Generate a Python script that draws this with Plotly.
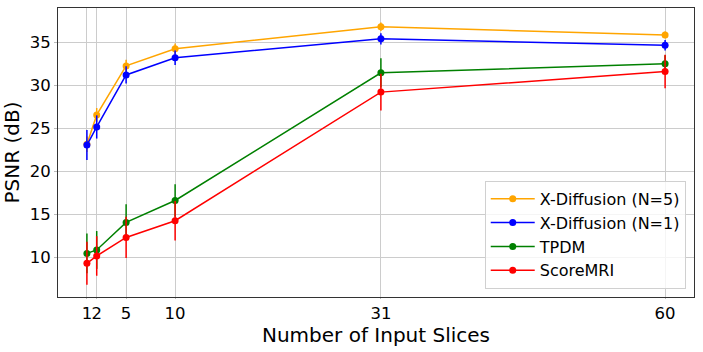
import plotly.graph_objects as go

slices = [1, 2, 5, 10, 31, 60]
tick_labels = ["1", "2", "5", "10", "31", "60"]

xdiff5 = [23.2, 26.6, 32.3, 34.3, 36.85, 35.9]
xdiff5_err = [0.9, 0.8, 0.7, 0.6, 0.5, 0.4]
xdiff1 = [23.1, 25.2, 31.25, 33.25, 35.45, 34.7]
xdiff1_err = [1.75, 1.35, 1.0, 0.85, 0.65, 0.6]
tpdm = [10.5, 10.9, 14.1, 16.65, 31.5, 32.55]
tpdm_err = [2.3, 2.2, 2.1, 1.9, 1.7, 1.0]
scoremri = [9.35, 10.2, 12.35, 14.3, 29.25, 31.65]
scoremri_err = [2.5, 2.3, 2.4, 2.3, 2.15, 1.95]

series = [
    ("X-Diffusion (N=5)", xdiff5, xdiff5_err, "orange"),
    ("X-Diffusion (N=1)", xdiff1, xdiff1_err, "blue"),
    ("TPDM", tpdm, tpdm_err, "green"),
    ("ScoreMRI", scoremri, scoremri_err, "red"),
]

fig = go.Figure()
for name, vals, errs, color in series:
    fig.add_trace(go.Scatter(
        x=slices, y=vals, name=name, mode="lines+markers",
        line=dict(color=color, width=1.5),
        marker=dict(color=color, size=7),
        error_y=dict(type="data", array=errs, visible=True, color=color,
                     thickness=1.5, width=0),
    ))

font = "DejaVu Sans, Verdana, sans-serif"
fig.update_layout(
    width=703, height=352,
    margin=dict(l=58, r=9, t=8, b=55),
    paper_bgcolor="white", plot_bgcolor="white",
    font=dict(family=font, size=16, color="black"),
    showlegend=True,
    legend=dict(
        x=0.987, y=0.028, xanchor="right", yanchor="bottom",
        bgcolor="rgba(255,255,255,0.8)", bordercolor="#d0d0d0", borderwidth=1,
        font=dict(size=16), tracegroupgap=0, itemwidth=44,
    ),
)
fig.update_xaxes(
    range=[-1.95, 62.95], tickmode="array", tickvals=slices, ticktext=tick_labels,
    tickangle=0, automargin=False,
    showgrid=True, gridcolor="#cccccc", gridwidth=1,
    showline=True, linecolor="#333", linewidth=1, mirror=True,
    ticks="outside", ticklen=1, tickcolor="#bbbbbb", zeroline=False,
    tickfont=dict(size=16.5),
    title=dict(text="Number of Input Slices", font=dict(size=20), standoff=0),
)
fig.update_yaxes(
    range=[5.43, 39.03], tickmode="array", tickvals=[10, 15, 20, 25, 30, 35],
    automargin=False,
    showgrid=True, gridcolor="#cccccc", gridwidth=1,
    showline=True, linecolor="#333", linewidth=1, mirror=True,
    ticks="outside", ticklen=3, tickcolor="#bbbbbb", zeroline=False,
    tickfont=dict(size=16.5),
    title=dict(text="PSNR (dB)", font=dict(size=20), standoff=6),
)

fig.write_html("out.html", config={"displayModeBar": False},
               post_script="document.body.style.margin='0';document.body.style.overflow='hidden';")
